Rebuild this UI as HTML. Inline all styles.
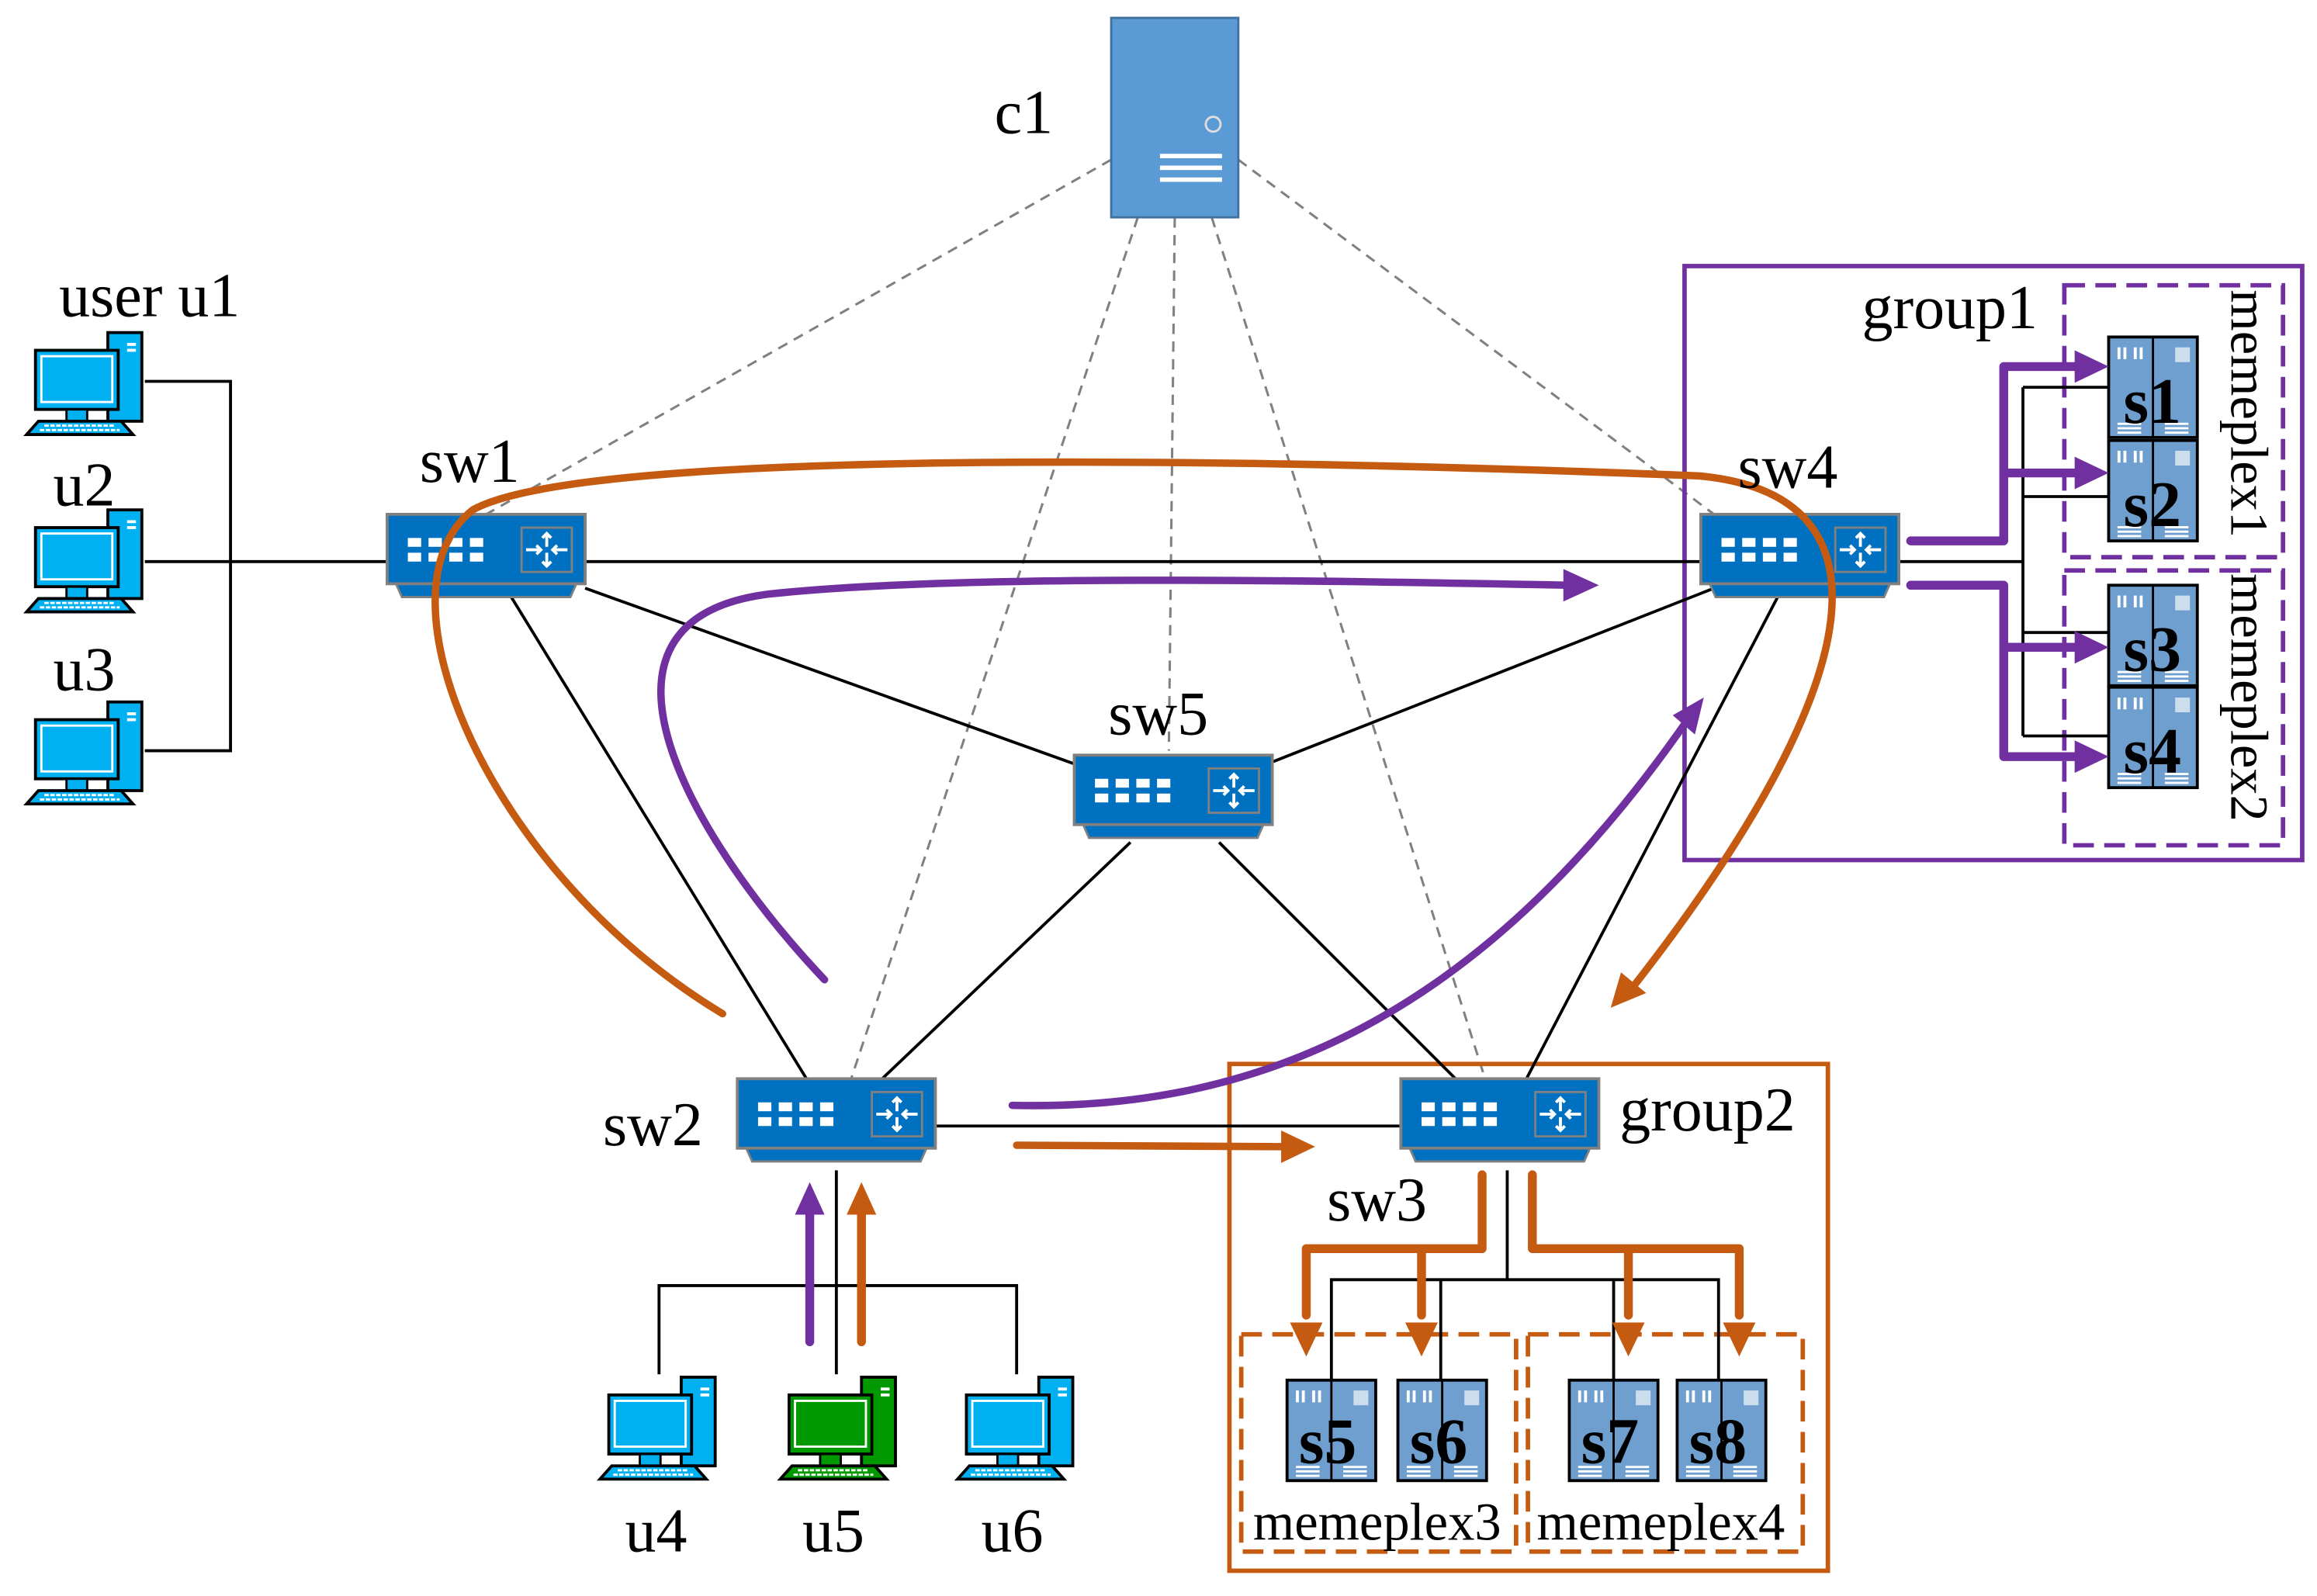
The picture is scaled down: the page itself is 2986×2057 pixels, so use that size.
<!DOCTYPE html>
<html><head><meta charset="utf-8"><style>
html,body{margin:0;padding:0;background:#fff;}
svg{display:block;}
text{font-family:"Liberation Serif",serif;fill:#000;}
</style></head><body>
<svg width="2986" height="2057" viewBox="0 0 1568 1080" xmlns="http://www.w3.org/2000/svg">
<defs>
<g id="sw">
<polygon points="6,47 128,47 124,56 10,56" fill="#0070c0" stroke="#808080" stroke-width="1.5"/>
<rect x="0" y="0" width="134" height="47" fill="#0070c0" stroke="#808080" stroke-width="2"/>
<g fill="#fff">
<rect x="14" y="16" width="9" height="6"/><rect x="28" y="16" width="9" height="6"/><rect x="42" y="16" width="9" height="6"/><rect x="56" y="16" width="9" height="6"/>
<rect x="14" y="26" width="9" height="6"/><rect x="28" y="26" width="9" height="6"/><rect x="42" y="26" width="9" height="6"/><rect x="56" y="26" width="9" height="6"/>
</g>
<rect x="91" y="9" width="34" height="30" fill="none" stroke="#808080" stroke-width="1.5"/>
<g stroke="#fff" stroke-width="2" fill="none">
<path d="M108,13 V22 M105,16 L108,13 L111,16"/>
<path d="M108,26 V35 M105,32 L108,35 L111,32"/>
<path d="M94,24 H104 M101,21 L104,24 L101,27"/>
<path d="M122,24 H112 M115,21 L112,24 L115,27"/>
</g>
</g>
<g id="pc">
<rect x="55" y="0" width="23" height="60" fill="#00b0f0" stroke="#000" stroke-width="2"/>
<rect x="68" y="7" width="6" height="2" fill="#fff"/><rect x="68" y="11" width="6" height="2" fill="#fff"/>
<rect x="6" y="12" width="56" height="40" fill="#00b0f0" stroke="#000" stroke-width="2"/>
<rect x="10" y="16" width="48" height="31" fill="#00b0f0" stroke="#fff" stroke-width="1.5"/>
<rect x="27" y="52" width="14" height="8" fill="#00b0f0" stroke="#000" stroke-width="1.5"/>
<polygon points="8,60 64,60 72,69 0,69" fill="#00b0f0" stroke="#000" stroke-width="2"/>
<path d="M12,63 H60 M9,66 H63" stroke="#fff" stroke-width="1.5" stroke-dasharray="3,1"/>
</g>
<g id="pcg">
<rect x="55" y="0" width="23" height="60" fill="#009900" stroke="#000" stroke-width="2"/>
<rect x="68" y="7" width="6" height="2" fill="#fff"/><rect x="68" y="11" width="6" height="2" fill="#fff"/>
<rect x="6" y="12" width="56" height="40" fill="#009900" stroke="#000" stroke-width="2"/>
<rect x="10" y="16" width="48" height="31" fill="#009900" stroke="#fff" stroke-width="1.5"/>
<rect x="27" y="52" width="14" height="8" fill="#009900" stroke="#000" stroke-width="1.5"/>
<polygon points="8,60 64,60 72,69 0,69" fill="#009900" stroke="#000" stroke-width="2"/>
<path d="M12,63 H60 M9,66 H63" stroke="#fff" stroke-width="1.5" stroke-dasharray="3,1"/>
</g>
<g id="srv">
<rect x="0" y="0" width="60" height="68" fill="#6f9fcf" stroke="#000" stroke-width="2"/>
<line x1="30" y1="0" x2="30" y2="68" stroke="#000" stroke-width="1.5"/>
<g fill="#fff"><rect x="6" y="7" width="2" height="8"/><rect x="10" y="7" width="2" height="8"/><rect x="17" y="7" width="2" height="8"/><rect x="21" y="7" width="2" height="8"/>
<rect x="45" y="7" width="10" height="10" fill="#cde"/>
<rect x="6" y="58" width="16" height="1.5"/><rect x="6" y="61" width="16" height="1.5"/><rect x="6" y="64" width="16" height="1.5"/>
<rect x="38" y="58" width="16" height="1.5"/><rect x="38" y="61" width="16" height="1.5"/><rect x="38" y="64" width="16" height="1.5"/></g>
</g>
</defs>

<g stroke="#808080" stroke-width="1.6" stroke-dasharray="7,5" fill="none">
<line x1="752" y1="108" x2="329" y2="348"/>
<line x1="770" y1="147" x2="576" y2="730"/>
<line x1="795" y1="147" x2="791" y2="508"/>
<line x1="820" y1="147" x2="1005" y2="730"/>
<line x1="838" y1="108" x2="1160" y2="348"/>
</g>

<rect x="1140" y="180" width="418" height="402" fill="none" stroke="#7030a0" stroke-width="3"/>
<rect x="1397" y="193" width="148" height="184" fill="none" stroke="#7030a0" stroke-width="3" stroke-dasharray="14,7"/>
<rect x="1397" y="386" width="148" height="186" fill="none" stroke="#7030a0" stroke-width="3" stroke-dasharray="14,7"/>
<rect x="832" y="720" width="405" height="343" fill="none" stroke="#c55a11" stroke-width="3"/>
<rect x="840" y="903" width="186" height="147" fill="none" stroke="#c55a11" stroke-width="3" stroke-dasharray="14,7"/>
<rect x="1034" y="903" width="186" height="147" fill="none" stroke="#c55a11" stroke-width="3" stroke-dasharray="14,7"/>

<g stroke="#000" stroke-width="2" fill="none">
<path d="M98,258 H156 V508 H98 M98,380 H262"/>
<line x1="396" y1="380" x2="1151" y2="380"/>
<line x1="396" y1="398" x2="730" y2="518"/>
<line x1="346" y1="404" x2="547" y2="732"/>
<line x1="765" y1="570" x2="597" y2="730"/>
<line x1="825" y1="570" x2="985" y2="730"/>
<line x1="1160" y1="398" x2="860" y2="516"/>
<line x1="1203" y1="404" x2="1033" y2="730"/>
<line x1="633" y1="762" x2="948" y2="762"/>
<path d="M566,792 V930 M446,930 V870 H688 V930"/>
<path d="M1020,792 V866 M901,934 V866 H1163 V934 M975,866 V934 M1092,866 V934"/>
<path d="M1285,380 H1369 M1369,262 V498 M1369,262 H1427 M1369,336 H1427 M1369,428 H1427 M1369,498 H1427"/>
</g>

<use href="#sw" x="262" y="348"/>
<use href="#sw" x="1151" y="348"/>
<use href="#sw" x="727" y="511"/>
<use href="#sw" x="499" y="730"/>
<use href="#sw" x="948" y="730"/>
<use href="#pc" x="18" y="225"/>
<use href="#pc" x="18" y="345"/>
<use href="#pc" x="18" y="475"/>
<use href="#pc" x="406" y="932"/>
<use href="#pcg" x="528" y="932"/>
<use href="#pc" x="648" y="932"/>
<use href="#srv" x="1427" y="228"/>
<use href="#srv" x="1427" y="298"/>
<use href="#srv" x="1427" y="396"/>
<use href="#srv" x="1427" y="465"/>
<use href="#srv" x="871" y="934"/>
<use href="#srv" x="946" y="934"/>
<use href="#srv" x="1062" y="934"/>
<use href="#srv" x="1135" y="934"/>
<rect x="752" y="12" width="86" height="135" fill="#5b9bd5" stroke="#41719c" stroke-width="1.5"/>
<circle cx="821" cy="84" r="5" fill="#5b9bd5" stroke="#ddd" stroke-width="1.5"/>
<g fill="#fff"><rect x="785" y="104" width="42" height="3"/><rect x="785" y="112" width="42" height="3"/><rect x="785" y="120" width="42" height="3"/></g>

<g fill="none" stroke-linecap="round" stroke-linejoin="round">
<path d="M489,686 C330,590 250,400 320,345 C400,300 900,312 1150,322 C1290,335 1260,470 1105,668" stroke="#c55a11" stroke-width="5"/>
<path d="M558,663 C470,570 380,420 520,402 C650,388 900,393 1062,396" stroke="#7030a0" stroke-width="5"/>
<path d="M685,748 C850,752 1000,690 1140,490" stroke="#7030a0" stroke-width="5"/>
<path d="M688,775 L872,776" stroke="#c55a11" stroke-width="5"/>
<path d="M548,908 V820" stroke="#7030a0" stroke-width="6"/>
<path d="M583,908 V820" stroke="#c55a11" stroke-width="6"/>
<path d="M1293,366 H1356 V248 H1410 M1356,320 H1410" stroke="#7030a0" stroke-width="6"/>
<path d="M1293,396 H1356 V512 H1410 M1356,438 H1410" stroke="#7030a0" stroke-width="6"/>
<path d="M1003,795 V845 H884 V890 M962,845 V890" stroke="#c55a11" stroke-width="6"/>
<path d="M1037,795 V845 H1177 V890 M1102,845 V890" stroke="#c55a11" stroke-width="6"/>
</g>
<g fill="#7030a0">
<polygon points="1082,396 1058,385 1058,407"/>
<polygon points="1153,472 1132,484 1147,497"/>
<polygon points="548,800 538,822 558,822"/>
<polygon points="1427,248 1404,237 1404,259"/>
<polygon points="1427,320 1404,309 1404,331"/>
<polygon points="1427,438 1404,427 1404,449"/>
<polygon points="1427,512 1404,501 1404,523"/>
</g>
<g fill="#c55a11">
<polygon points="1090,682 1097,658 1114,672"/>
<polygon points="890,776 867,765 867,787"/>
<polygon points="583,800 573,822 593,822"/>
<polygon points="884,918 873,895 895,895"/>
<polygon points="962,918 951,895 973,895"/>
<polygon points="1102,918 1091,895 1113,895"/>
<polygon points="1177,918 1166,895 1188,895"/>
</g>

<g font-size="42">
<text x="673" y="90">c1</text>
<text x="40" y="214">user u1</text>
<text x="36" y="342">u2</text>
<text x="36" y="467">u3</text>
<text x="284" y="326">sw1</text>
<text x="1176" y="330">sw4</text>
<text x="750" y="497">sw5</text>
<text x="408" y="775">sw2</text>
<text x="898" y="826">sw3</text>
<text x="1096" y="765">group2</text>
<text x="1260" y="222">group1</text>
<text x="423" y="1050">u4</text>
<text x="543" y="1050">u5</text>
<text x="664" y="1050">u6</text>
<text x="848" y="1042" font-size="36">memeplex3</text>
<text x="1040" y="1042" font-size="36">memeplex4</text>
<text transform="translate(1510,196) rotate(90)" font-size="36">memeplex1</text>
<text transform="translate(1510,388) rotate(90)" font-size="36">memeplex2</text>
</g>
<g font-size="44" font-weight="bold">
<text x="1437" y="286">s1</text>
<text x="1437" y="356">s2</text>
<text x="1437" y="454">s3</text>
<text x="1437" y="523">s4</text>
<text x="879" y="990">s5</text>
<text x="954" y="990">s6</text>
<text x="1070" y="990">s7</text>
<text x="1143" y="990">s8</text>
</g>
</svg>
</body></html>
